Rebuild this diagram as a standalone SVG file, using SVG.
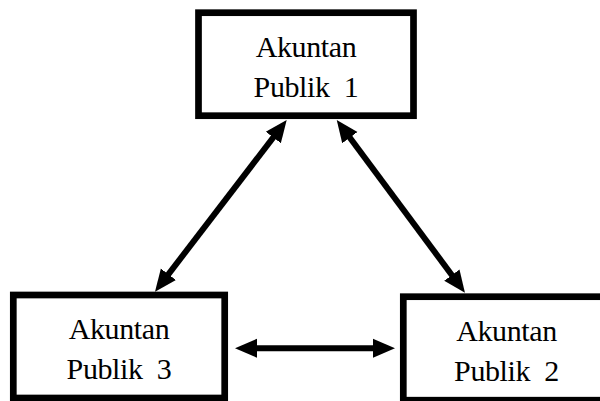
<svg xmlns="http://www.w3.org/2000/svg" width="600" height="401" viewBox="0 0 600 401">
<style>
.box{fill:#fff;stroke:#000;stroke-width:6.7}
.lbl{font-family:"Liberation Serif","Times New Roman",serif;font-size:30px;letter-spacing:-0.4px;fill:#000;text-anchor:middle;white-space:pre}
.conn{stroke:#000;stroke-width:6;fill:none;marker-start:url(#ah);marker-end:url(#ah)}
</style>
<defs>
<marker id="ah" markerUnits="userSpaceOnUse" markerWidth="24" markerHeight="22" viewBox="0 0 24 22" refX="12" refY="11" orient="auto-start-reverse">
<path d="M0,1.5 L22,11 L0,20.5 z" fill="#000"/>
</marker>
</defs>
<rect width="600" height="401" fill="#fff"/>
<g id="node1">
<rect class="box" x="198.5" y="12.7" width="215" height="103"/>
<text class="lbl" x="306" y="57" xml:space="preserve">Akuntan</text>
<text class="lbl" x="306" y="97" xml:space="preserve">Publik  1</text>
</g>
<g id="node3">
<rect class="box" x="13.3" y="295" width="211.4" height="103"/>
<text class="lbl" x="119" y="339" xml:space="preserve">Akuntan</text>
<text class="lbl" x="119" y="379" xml:space="preserve">Publik  3</text>
</g>
<g id="node2">
<rect class="box" x="403.3" y="296.7" width="205" height="103.5"/>
<text class="lbl" x="506.5" y="341" xml:space="preserve">Akuntan</text>
<text class="lbl" x="506.5" y="381" xml:space="preserve">Publik  2</text>
</g>
<g id="connectors">
<line class="conn" x1="161.1" y1="283.8" x2="280.6" y2="127.9"/>
<line class="conn" x1="342.7" y1="128" x2="459" y2="284.7"/>
<line class="conn" x1="245" y1="348.3" x2="385" y2="348.3"/>
</g>
</svg>
